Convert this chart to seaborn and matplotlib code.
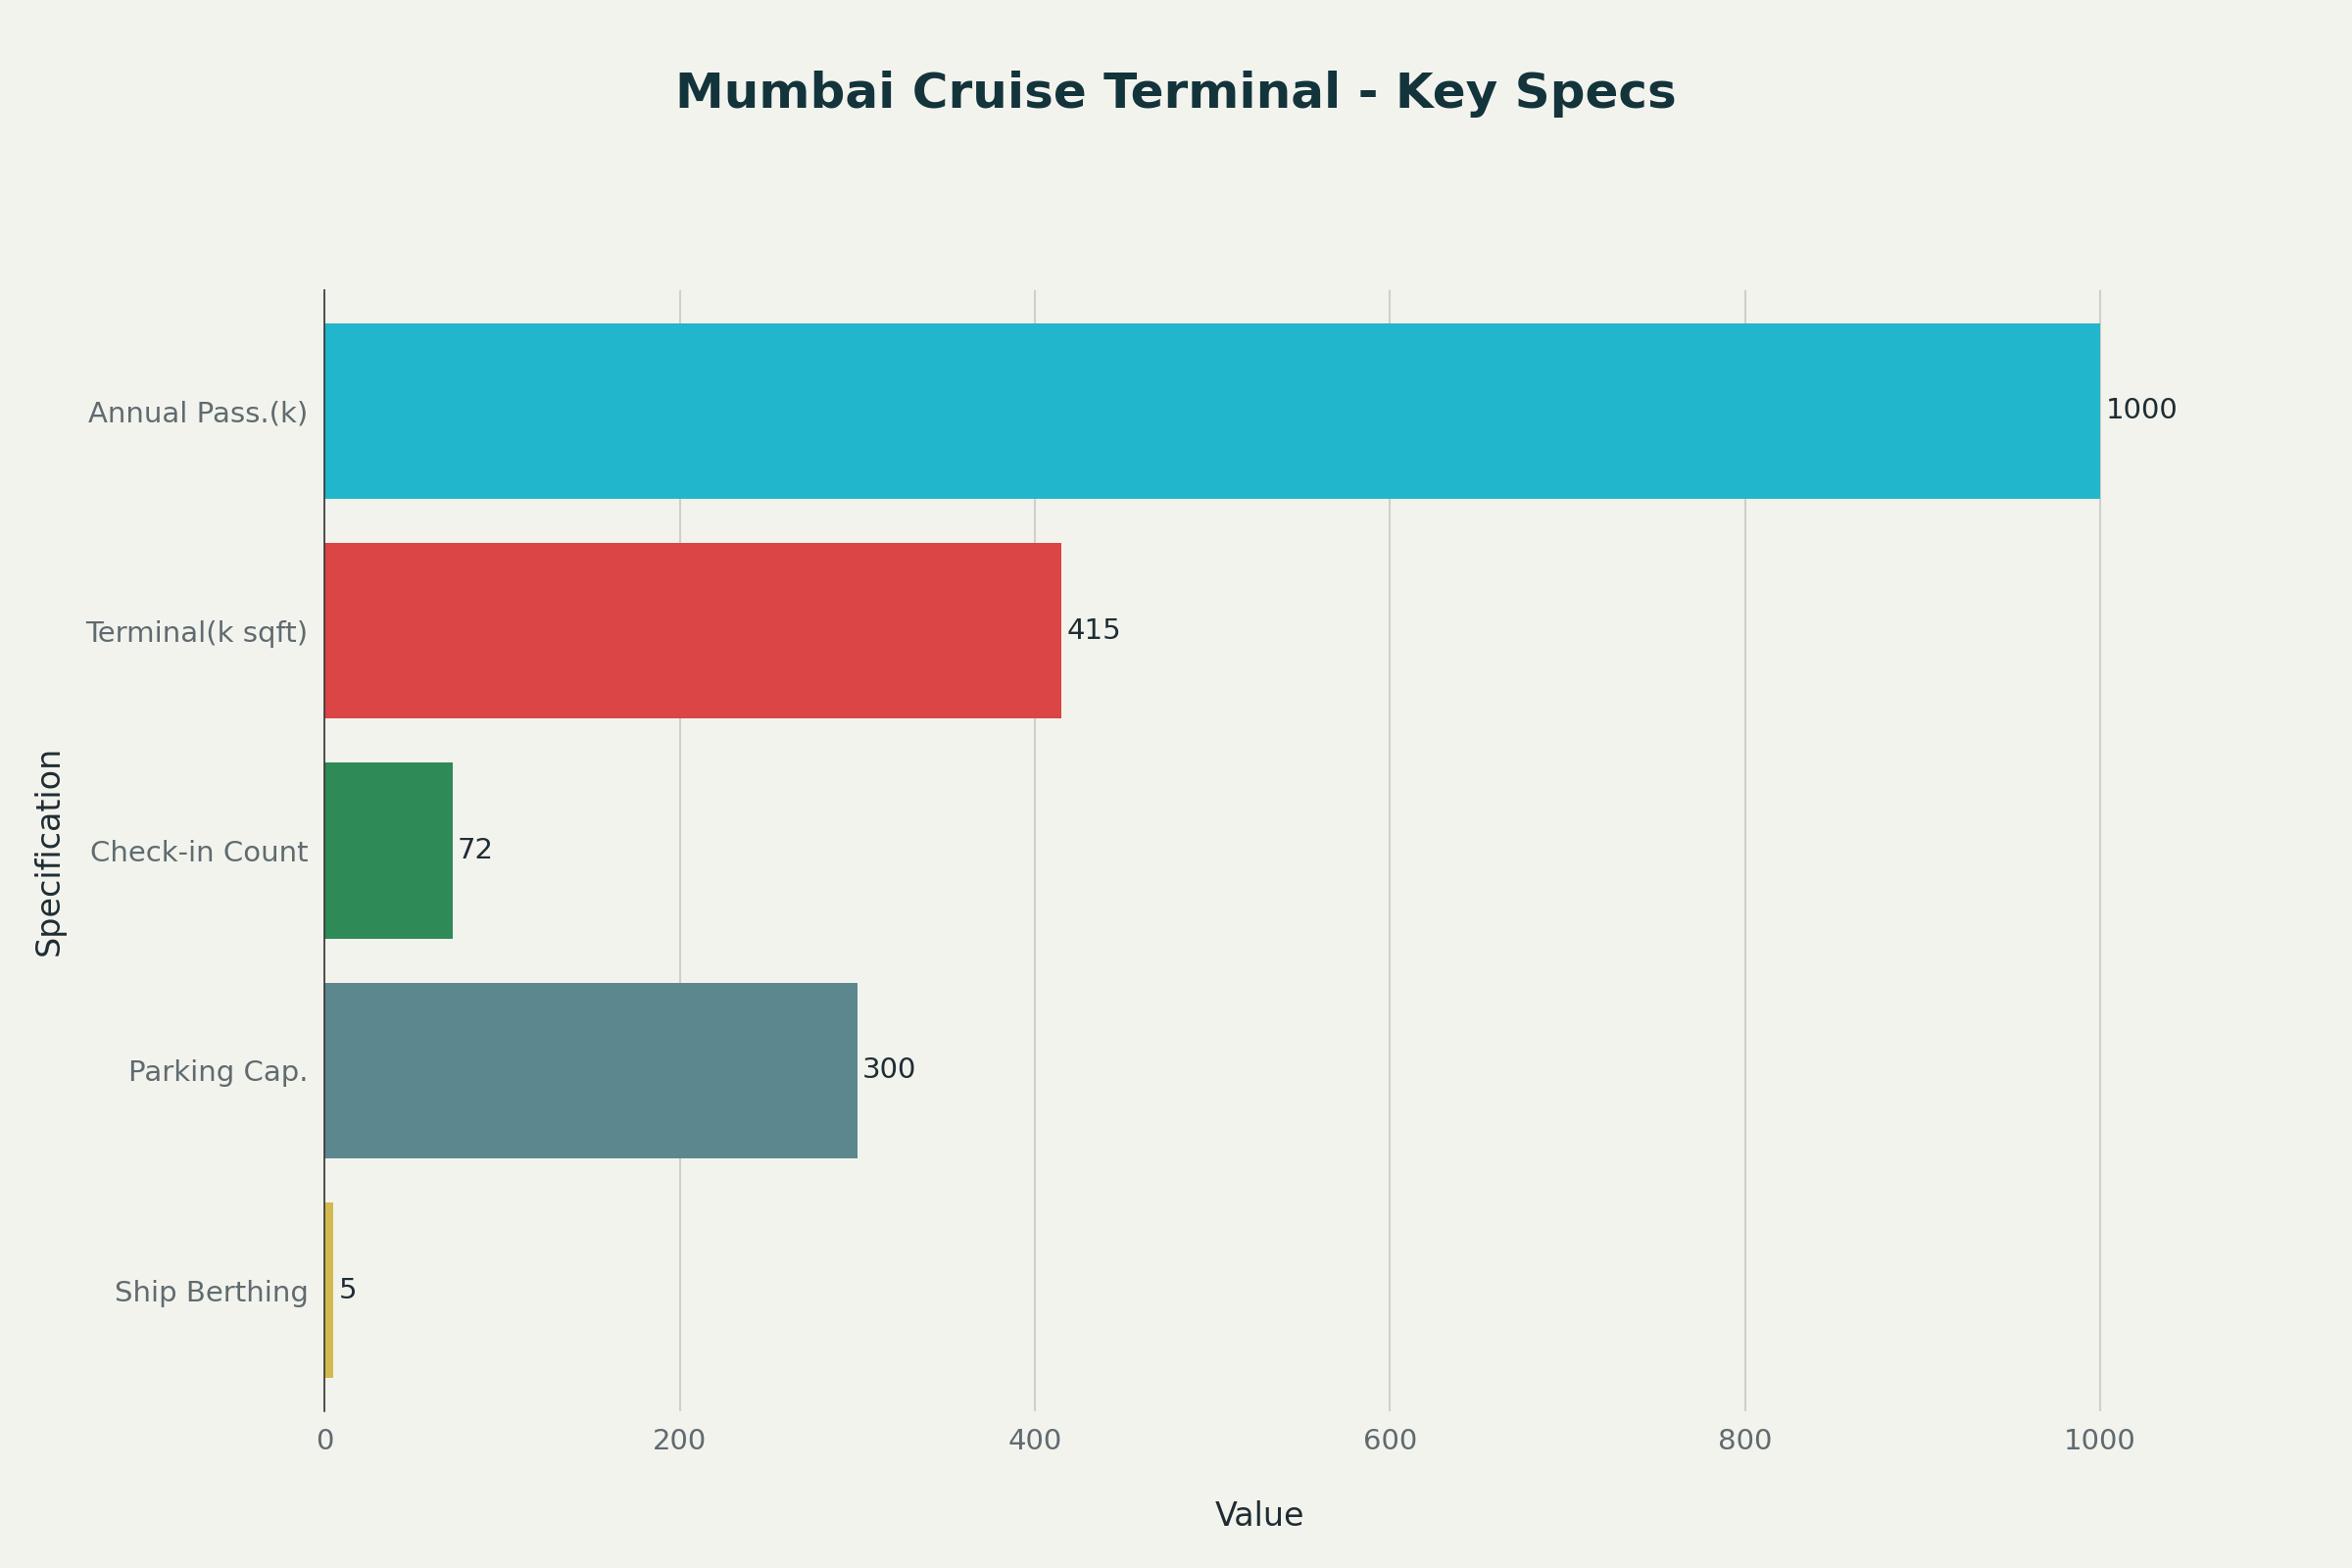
import matplotlib
matplotlib.use("Agg")
import matplotlib.pyplot as plt
import seaborn as sns
import pandas as pd

categories = ["Annual Pass.(k)", "Terminal(k sqft)", "Check-in Count", "Parking Cap.", "Ship Berthing"]
values = [1000, 415, 72, 300, 5]
colors = ["#21B6CB", "#DB4545", "#2E8B57", "#5D878F", "#D2BA4C"]
xticks = [0, 200, 400, 600, 800, 1000]

df = pd.DataFrame({"Specification": categories, "Value": values})
bg = "#F3F3EE"
plt.rcParams["font.family"] = "DejaVu Sans"
fig = plt.figure(figsize=(16, 10.667), dpi=150, facecolor=bg)
ax = fig.add_axes([0.138, 0.1, 0.795, 0.715], facecolor=bg)
ax.set_axisbelow(True)
ax.grid(True, color="#CFCFCB", linewidth=1)
sns.barplot(data=df, y="Specification", x="Value", hue="Specification", palette=colors,
            order=categories, width=0.8, legend=False, ax=ax, saturation=1, zorder=2)
for i, v in enumerate(values):
    ax.text(v + 3, i, str(v), va="center", ha="left", fontsize=14, color="#1F2D33", zorder=3)
ax.set_xlim(0, 1053)
ax.set_ylim(4.55, -0.55)
ax.set_xticks(xticks)
for s in ["top", "right", "bottom"]:
    ax.spines[s].set_visible(False)
ax.spines["left"].set_color("#333333")
ax.tick_params(length=0, labelsize=14, labelcolor="#5F6B6F", pad=8)
ax.set_xlabel("Value", fontsize=16, color="#1F2D33", labelpad=22)
ax.set_ylabel("Specification", fontsize=16, color="#1F2D33", labelpad=10)
fig.suptitle("Mumbai Cruise Terminal - Key Specs", fontsize=24, fontweight="bold",
             color="#13343B", y=0.955)
fig.savefig("out.png", facecolor=bg)
